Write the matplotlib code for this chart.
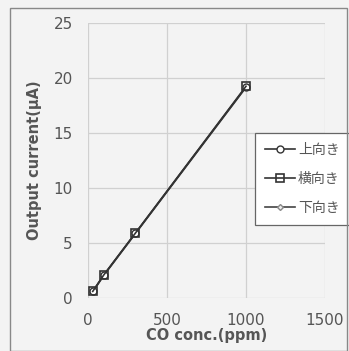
import matplotlib
matplotlib.use("Agg")
import matplotlib.pyplot as plt
from matplotlib.patches import Rectangle

plt.rcParams['font.family'] = ['DejaVu Sans', 'Noto Sans CJK JP']

conc = [30, 100, 300, 1000]
up = [0.6, 2.1, 5.9, 19.2]
side = [0.6, 2.1, 5.9, 19.25]
down = [0.55, 2.05, 5.85, 19.15]
labels = ['上向き', '横向き', '下向き']
xticks = [0, 500, 1000, 1500]
yticks = [0, 5, 10, 15, 20, 25]

fig = plt.figure(figsize=(3.49, 3.51), dpi=100)
fig.patch.set_facecolor('#f3f3f3')
fig.patches.append(Rectangle((10/349, 0), 337/349, (351-8)/351, transform=fig.transFigure,
                             fill=False, edgecolor='#888888', linewidth=1.0))
ax = fig.add_axes([88/349, (351-298)/351, (325-88)/349, (298-23)/351])
ax.set_facecolor('#f3f3f3')

ax.plot(conc, down, color='#444444', lw=1.2, marker='D', ms=3, mfc='#eeeeee', mec='#888888', label=labels[2])
ax.plot(conc, up, color='#333333', lw=1.2, marker='o', ms=5, mfc='white', mec='#333333', label=labels[0])
ax.plot(conc, side, color='#333333', lw=1.2, marker='s', ms=6, mfc='none', mec='#333333', mew=1.2, label=labels[1])

ax.set_xlim(0, 1500)
ax.set_ylim(0, 25)
ax.set_xticks(xticks)
ax.set_yticks(yticks)
ax.grid(True, color='#d0d0d0', lw=0.9)
ax.set_axisbelow(True)
for s in ax.spines.values():
    s.set_visible(False)
ax.tick_params(axis='x', length=0, labelsize=11, colors='#555555', pad=11)
ax.tick_params(axis='y', length=0, labelsize=11, colors='#555555', pad=11)
ax.set_xlabel('CO conc.(ppm)', fontsize=10.5, fontweight='bold', color='#555555', labelpad=0)
ax.set_ylabel('Output current(μA)', fontsize=10.5, fontweight='bold', color='#555555', labelpad=8)

h, l = ax.get_legend_handles_labels()
order = [1, 2, 0]
leg = ax.legend([h[i] for i in order], [l[i] for i in order], loc='upper left',
                bbox_to_anchor=(255/349, (351-133)/351), bbox_transform=fig.transFigure,
                borderaxespad=0, frameon=True, fancybox=False, edgecolor='#666666',
                facecolor='white', framealpha=1, handlelength=2.2, handletextpad=0.2,
                labelspacing=1.1, borderpad=0.7, labelcolor='#555555',
                prop={'family': ['Noto Sans CJK JP'], 'size': 10})
leg.get_frame().set_linewidth(0.9)

fig.savefig('out.png', dpi=100, facecolor=fig.get_facecolor())
